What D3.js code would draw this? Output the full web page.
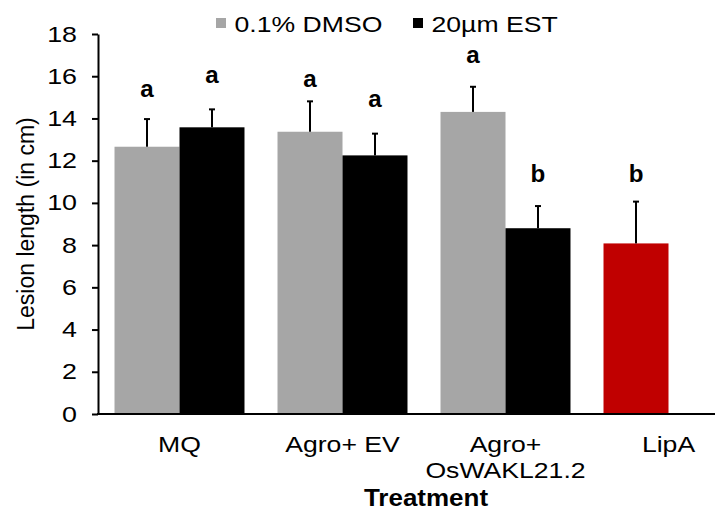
<!DOCTYPE html>
<html>
<head>
<meta charset="utf-8">
<script src="https://cdn.jsdelivr.net/npm/d3@7"></script>
<style>
  html, body { margin: 0; padding: 0; background: #fff; }
  svg { display: block; }
  text { font-family: "Liberation Sans", Arial, sans-serif; fill: #000; }
</style>
</head>
<body>
<svg id="chart" width="715" height="515"></svg>
<script>
// ---- data ----
const categories = ["MQ", "Agro+ EV", "Agro+|OsWAKL21.2", "LipA"];
const seriesNames = ["0.1% DMSO", "20µm EST"];
const dmsoValues = [12.66, 13.37, 14.31, 8.08];
const dmsoErrors = [1.31, 1.44, 1.19, 1.98];
const estValues = [13.58, 12.25, 8.80, null];
const estErrors = [0.85, 1.03, 1.05, null];
const dmsoLetters = ["a", "a", "a", "b"];
const estLetters = ["a", "a", "b", null];
const dmsoLetterAt = [15.02, 15.49, 16.63, 10.99];
const estLetterAt = [15.68, 14.54, 10.99, null];
const yTicks = [0, 2, 4, 6, 8, 10, 12, 14, 16, 18];

const colors = { "0.1% DMSO": "#a6a6a6", "20µm EST": "#000000", "LipA": "#c00000" };

// ---- layout ----
const svg = d3.select("#chart");
const mLeft = 98, mTop = 34, mBottom = 414, bandW = 163;
const stretch = 1.21; // reference text is horizontally stretched

const x0 = d3.scaleBand().domain(categories)
  .range([mLeft, mLeft + bandW * categories.length]).paddingInner(0).paddingOuter(0);
const x1 = d3.scaleBand().domain(seriesNames)
  .range([0, x0.bandwidth()]).paddingInner(0).paddingOuter(0.254);
const y = d3.scaleLinear().domain([0, 18]).range([mBottom, mTop]);

const bars = [];
categories.forEach((c, i) => {
  if (dmsoValues[i] != null) bars.push({ cat: c, s: seriesNames[0], v: dmsoValues[i], e: dmsoErrors[i], l: dmsoLetters[i], la: dmsoLetterAt[i], color: c === "LipA" ? colors.LipA : colors[seriesNames[0]] });
  if (estValues[i] != null) bars.push({ cat: c, s: seriesNames[1], v: estValues[i], e: estErrors[i], l: estLetters[i], la: estLetterAt[i], color: colors[seriesNames[1]] });
});

// bars
svg.append("g").selectAll("rect").data(bars).join("rect")
  .attr("x", d => x0(d.cat) + x1(d.s))
  .attr("width", x1.bandwidth())
  .attr("y", d => y(d.v))
  .attr("height", d => y(0) - y(d.v))
  .attr("fill", d => d.color);

// error bars
const eb = svg.append("g").attr("stroke", "#000").attr("stroke-width", 2);
bars.forEach(d => {
  const cx = x0(d.cat) + x1(d.s) + x1.bandwidth() / 2;
  eb.append("line").attr("x1", cx).attr("x2", cx).attr("y1", y(d.v)).attr("y2", y(d.v + d.e));
  eb.append("line").attr("x1", cx - 3).attr("x2", cx + 3).attr("y1", y(d.v + d.e)).attr("y2", y(d.v + d.e));
});

// letters
svg.append("g").selectAll("text").data(bars.filter(d => d.l)).join("text")
  .attr("transform", d => `translate(${x0(d.cat) + x1(d.s) + x1.bandwidth() / 2},${y(d.la)}) scale(1.05,1)`)
  .attr("text-anchor", "middle")
  .attr("font-weight", "bold")
  .attr("font-size", 23)
  .text(d => d.l);

// y axis
const tickStretch = 1.22;
const yAxis = svg.append("g").attr("transform", `translate(${mLeft},0)`)
  .call(d3.axisLeft(y).tickValues(yTicks).tickSize(6).tickPadding(15).tickSizeOuter(0));
yAxis.select(".domain").attr("stroke", "#000").attr("stroke-width", 2);
yAxis.selectAll(".tick line").attr("stroke", "#000").attr("stroke-width", 2);
yAxis.selectAll(".tick text")
  .attr("font-size", 22)
  .attr("font-family", "Liberation Sans, Arial, sans-serif")
  .attr("x", -21 / tickStretch)
  .attr("transform", `scale(${tickStretch},1)`);

// x axis
const xAxis = svg.append("g").attr("transform", `translate(0,${mBottom})`)
  .call(d3.axisBottom(x0).tickSize(0).tickSizeOuter(0).tickFormat(""));
xAxis.select(".domain").attr("stroke", "#000").attr("stroke-width", 2)
  .attr("d", `M${mLeft - 1},0H${mLeft + bandW * categories.length}`);

// x labels
const xl = svg.append("g");
categories.forEach(c => {
  const lines = c.split("|");
  const cx = x0(c) + x0.bandwidth() / 2;
  const t = xl.append("text")
    .attr("transform", `translate(${cx},452) scale(${stretch},1)`)
    .attr("text-anchor", "middle")
    .attr("font-size", 22);
  lines.forEach((ln, k) => t.append("tspan").attr("x", 0).attr("dy", k === 0 ? 0 : 26).text(ln));
});

// axis titles
svg.append("text").attr("transform", "translate(426,506) scale(1.13,1)").attr("text-anchor", "middle")
  .attr("font-weight", "bold").attr("font-size", 23).text("Treatment");
svg.append("text").attr("transform", "translate(34,224) rotate(-90)")
  .attr("text-anchor", "middle").attr("font-size", 23).text("Lesion length (in cm)");

// legend
const lg = svg.append("g");
const legendX = [216, 413];
seriesNames.forEach((s, i) => {
  lg.append("rect").attr("x", legendX[i]).attr("y", 18).attr("width", 10).attr("height", 10).attr("fill", colors[s]);
  lg.append("text").attr("transform", `translate(${legendX[i] + 18.5},32) scale(${stretch},1)`)
    .attr("font-size", 22).text(s);
});
</script>
</body>
</html>
